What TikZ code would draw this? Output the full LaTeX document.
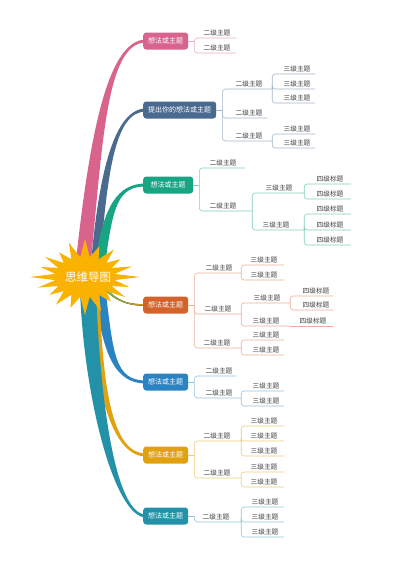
\documentclass[tikz,border=0pt]{standalone}
\usepackage{fontspec}
\setmainfont{Noto Sans CJK SC}
\definecolor{pinkc}{HTML}{D8648E}
\definecolor{navyc}{HTML}{4A6A8F}
\definecolor{tealc}{HTML}{17A584}
\definecolor{orangec}{HTML}{D4622B}
\definecolor{bluec}{HTML}{2A84C4}
\definecolor{goldc}{HTML}{E2A10F}
\definecolor{cyanc}{HTML}{2392A9}
\definecolor{starc}{HTML}{FAB200}
\definecolor{textc}{HTML}{404040}
\definecolor{limec}{HTML}{6CBF4A}
\colorlet{pinkl}{pinkc!55!white}
\colorlet{navyl}{navyc!50!white}
\colorlet{teall}{tealc!55!white}
\colorlet{orangel}{orangec!50!white}
\colorlet{bluel}{bluec!50!white}
\colorlet{goldl}{goldc!55!white}
\colorlet{cyanl}{cyanc!50!white}
% thick tapering branch: colour, start x, start y, c1 x, c1 y, c2 x, end y, half width at start, half width at end
\newcommand{\branch}[9]{
  \fill[#1] ({#2-#8},#3) .. controls ({#4-#8},#5) and (#6,{#7-(#9)}) .. (146,{#7-(#9)})
    -- (146,{#7+(#9)}) .. controls (#6,{#7+(#9)}) and ({#4+#8},#5) .. ({#2+#8},#3) -- cycle;}
\tikzset{
  topic/.style={rounded corners=3pt, text=white, font=\fontsize{7}{8}\selectfont, inner xsep=5pt, minimum height=17pt, anchor=west},
  subt/.style={text=textc, font=\fontsize{6.7}{8}\selectfont, inner xsep=0pt, inner ysep=1.5pt, anchor=south, minimum width=#1},
  link/.style={#1, line width=0.6pt, rounded corners=3pt}
}
\begin{document}
\begin{tikzpicture}[x=1pt,y=-1pt]
\useasboundingbox (0,0) rectangle (400,565);
%BRANCHES
\branch{pinkc}{82}{275}{95}{150}{105}{41}{7.5}{1.5}
\branch{navyc}{95}{270}{103}{170}{115}{110}{4.5}{1.5}
\branch{tealc}{100}{265}{108}{205}{118}{185}{5}{1.5}
\branch{left color=limec, middle color=yellow!60!limec, right color=orangec!70!yellow}{104}{288}{118}{302}{128}{305}{1.3}{-0.8}
\branch{bluec}{100}{290}{108}{355}{115}{382}{5.5}{-1.5}
\branch{goldc}{95}{290}{98}{400}{115}{455}{4.5}{-1.5}
\branch{cyanc}{88}{290}{92}{400}{115}{516}{8}{-1.5}
%STAR
\begin{scope}[shift={(85,277)}]
\fill[starc] (55,0) \foreach \a/\r in {18/.85,36/.9,54/.8,72/.95,90/1,108/.85,126/.9,144/.8,162/.9,180/1,198/.85,216/.9,234/.8,252/.95,270/1,288/.85,306/.9,324/.8,342/.9}
  { -- ({30*cos(\a-9)},{20*sin(\a-9)}) -- ({55*\r*cos(\a)},{38*\r*sin(\a)}) } -- ({30*cos(351)},{20*sin(351)}) -- cycle;
\end{scope}
\node[text=white, font=\fontsize{11.5}{12}\selectfont] (root) at (88,277) {思维导图};
%TOPIC 1
\node[topic, fill=pinkc] (t1) at (143,41) {想法或主题};
\node[subt=38] (a11) at (217,38) {二级主题};
\node[subt=38] (a12) at (217,53) {二级主题};
\draw[link=pinkl] (t1.east) -- ++(6,0) coordinate (k1);
\foreach \n in {a11,a12} \draw[link=pinkl] (k1) |- (\n.south east);
%TOPIC 2
\node[topic, fill=navyc] (t2) at (143,110) {提出你的想法或主题};
\node[subt=46] (a21) at (249,89) {二级主题};
\node[subt=36] (a22) at (249,118) {二级主题};
\node[subt=46] (a23) at (249,141) {二级主题};
\node[subt=36] (b211) at (297,74) {三级主题};
\node[subt=36] (b212) at (297,89) {三级主题};
\node[subt=36] (b213) at (297,103) {三级主题};
\node[subt=36] (b231) at (297,134) {三级主题};
\node[subt=36] (b232) at (297,148) {三级主题};
\draw[link=navyl] (t2.east) -- ++(6,0) coordinate (k2);
\foreach \n in {a21,a22,a23} \draw[link=navyl] (k2) |- (\n.south east);
\foreach \n in {b211,b212,b213} \draw[link=navyl] (a21.south east) |- (\n.south east);
\foreach \n in {b231,b232} \draw[link=navyl] (a23.south east) |- (\n.south east);
%TOPIC 3
\node[topic, fill=tealc, minimum width=50pt] (t3) at (143,185) {想法或主题};
\node[subt=44] (a31) at (223,168) {二级主题};
\node[subt=58] (a32) at (223,211) {二级主题};
\node[subt=50] (b321) at (279,193) {三级主题};
\node[subt=56] (b322) at (276,230) {三级主题};
\node[subt=42] (c3211) at (330,184) {四级标题};
\node[subt=42] (c3212) at (330,199) {四级标题};
\node[subt=42] (c3221) at (330,214) {四级标题};
\node[subt=42] (c3222) at (330,230) {四级标题};
\node[subt=42] (c3223) at (330,245) {四级标题};
\draw[link=teall] (t3.east) -- ++(6,0) coordinate (k3);
\foreach \n in {a31,a32} \draw[link=teall] (k3) |- (\n.south east);
\foreach \n in {b321,b322} \draw[link=teall] (a32.south east) |- (\n.south east);
\foreach \n in {c3211,c3212} \draw[link=teall] (b321.south east) |- (\n.south east);
\foreach \n in {c3221,c3222,c3223} \draw[link=teall] (b322.south east) |- (\n.south east);
%TOPIC 4
\node[topic, fill=orangec] (t4) at (143,305) {想法或主题};
\node[subt=44] (a41) at (219,273) {二级主题};
\node[subt=46] (a42) at (218,314) {二级主题};
\node[subt=48] (a43) at (217,348) {二级主题};
\node[subt=40] (b411) at (264,265) {三级主题};
\node[subt=40] (b412) at (264,280) {三级主题};
\node[subt=46] (b421) at (267,303) {三级主题};
\node[subt=48] (b422) at (266,326) {三级主题};
\node[subt=36] (b431) at (266,340) {三级主题};
\node[subt=36] (b432) at (266,355) {三级主题};
\node[subt=34] (c4211) at (316,296) {四级标题};
\node[subt=34] (c4212) at (316,310) {四级标题};
\node[subt=40] (c4221) at (313,326) {四级标题};
\draw[link=orangel] (t4.east) -- ++(6,0) coordinate (k4);
\foreach \n in {a41,a42,a43} \draw[link=orangel] (k4) |- (\n.south east);
\foreach \n in {b411,b412} \draw[link=orangel] (a41.south east) |- (\n.south east);
\foreach \n in {b421,b422} \draw[link=orangel] (a42.south east) |- (\n.south east);
\foreach \n in {b431,b432} \draw[link=orangel] (a43.south east) |- (\n.south east);
\foreach \n in {c4211,c4212} \draw[link=orangel] (b421.south east) |- (\n.south east);
\draw[link=orangel] (b422.south east) -- (c4221.south east);
%TOPIC 5
\node[topic, fill=bluec] (t5) at (143,382) {想法或主题};
\node[subt=34] (a51) at (219,376) {二级主题};
\node[subt=44] (a52) at (219,398) {二级主题};
\node[subt=36] (b521) at (266,391) {三级主题};
\node[subt=36] (b522) at (266,406) {三级主题};
\draw[link=bluel] (t5.east) -- ++(6,0) coordinate (k5);
\foreach \n in {a51,a52} \draw[link=bluel] (k5) |- (\n.south east);
\foreach \n in {b521,b522} \draw[link=bluel] (a52.south east) |- (\n.south east);
%TOPIC 6
\node[topic, fill=goldc] (t6) at (143,455) {想法或主题};
\node[subt=48] (a61) at (217,441) {二级主题};
\node[subt=48] (a62) at (217,478) {二级主题};
\node[subt=40] (b611) at (264,426) {三级主题};
\node[subt=40] (b612) at (264,441) {三级主题};
\node[subt=40] (b613) at (264,456) {三级主题};
\node[subt=40] (b621) at (264,472) {三级主题};
\node[subt=40] (b622) at (264,487) {三级主题};
\draw[link=goldl] (t6.east) -- ++(6,0) coordinate (k6);
\foreach \n in {a61,a62} \draw[link=goldl] (k6) |- (\n.south east);
\foreach \n in {b611,b612,b613} \draw[link=goldl] (a61.south east) |- (\n.south east);
\foreach \n in {b621,b622} \draw[link=goldl] (a62.south east) |- (\n.south east);
%TOPIC 7
\node[topic, fill=cyanc] (t7) at (143,516) {想法或主题};
\node[subt=50] (a71) at (216,522) {二级主题};
\node[subt=38] (b711) at (265,507) {三级主题};
\node[subt=38] (b712) at (265,522) {三级主题};
\node[subt=38] (b713) at (265,537) {三级主题};
\draw[link=cyanl] (t7.east) -- ++(6,0) coordinate (k7);
\draw[link=cyanl] (k7) |- (a71.south east);
\foreach \n in {b711,b712,b713} \draw[link=cyanl] (a71.south east) |- (\n.south east);
\end{tikzpicture}
\end{document}
